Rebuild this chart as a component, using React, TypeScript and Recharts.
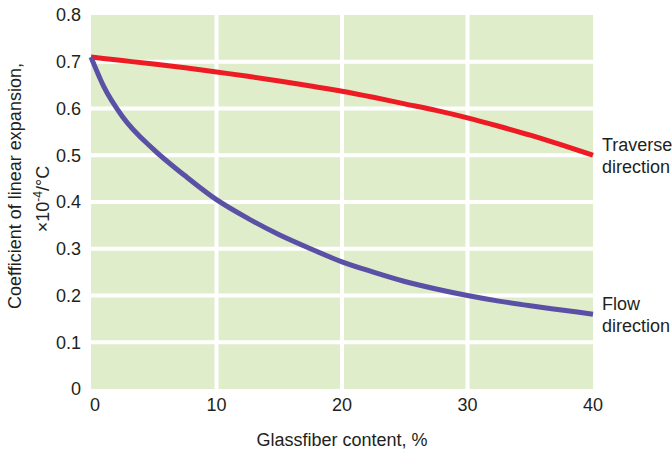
import { CartesianGrid, Line, LineChart, XAxis, YAxis } from 'recharts';

const FONT = '"Liberation Sans", Arial, sans-serif';
const INK = '#231f20';

const glassfiber = [0, 1, 2.5, 5, 7.5, 10, 12.5, 15, 17.5, 20, 22.5, 25, 27.5, 30, 32.5, 35, 37.5, 40];
const traverse = [0.71, 0.707, 0.7025, 0.695, 0.687, 0.678, 0.669, 0.659, 0.648, 0.637, 0.624, 0.61, 0.596, 0.58, 0.562, 0.543, 0.522, 0.5];
const flow = [0.71, 0.648, 0.583, 0.512, 0.456, 0.405, 0.365, 0.33, 0.3, 0.272, 0.25, 0.23, 0.214, 0.2, 0.188, 0.178, 0.169, 0.16];

const xTicks = [0, 10, 20, 30, 40];
const yTicks = [0, 0.1, 0.2, 0.3, 0.4, 0.5, 0.6, 0.7, 0.8];
const hGrid = [0.1, 0.2, 0.3, 0.4, 0.5, 0.6, 0.7];
const vGrid = [10, 20, 30];

const traverseLabel = ['Traverse', 'direction'];
const flowLabel = ['Flow', 'direction'];

const data = glassfiber.map((g, i) => ({ g, traverse: traverse[i], flow: flow[i] }));

function endLabel(lines: string[]) {
  return (props: any) => {
    const { x, y, index } = props;
    if (index !== data.length - 1) return null;
    return (
      <text x={x + 9} y={y - 4} fontFamily={FONT} fontSize={18} fill={INK}>
        <tspan x={x + 9} dy={0}>{lines[0]}</tspan>
        <tspan x={x + 9} dy={22}>{lines[1]}</tspan>
      </text>
    );
  };
}

// x tick "0" sits a little right of the axis in the original
function XTick(props: any) {
  const { x, y, payload } = props;
  const shift = payload.value === 0 ? 4 : 0;
  return (
    <text x={x + shift} y={y + 14} textAnchor="middle" fontFamily={FONT} fontSize={18} fill={INK}>
      {payload.value}
    </text>
  );
}

function YLabel() {
  return (
    <g>
      <text x={21} y={186} transform="rotate(-90, 21, 186)" textAnchor="middle" fontFamily={FONT} fontSize={18} fill={INK}>
        Coefficient of linear expansion,
      </text>
      <text x={49} y={199} transform="rotate(-90, 49, 199)" textAnchor="middle" fontFamily={FONT} fontSize={18} fill={INK}>
        ×10<tspan dy={-7} fontSize={12}>-4</tspan><tspan dy={7}>/°C</tspan>
      </text>
    </g>
  );
}

export default function App() {
  return (
    <div style={{ position: 'absolute', left: 0, top: 0, background: '#fff' }}>
      <LineChart width={672} height={454} data={data} margin={{ top: 15, right: 79, bottom: 0, left: 0 }}>
        <CartesianGrid
          fill="#e0edcb"
          stroke="#ffffff"
          strokeWidth={4}
          horizontalValues={hGrid}
          verticalValues={vGrid}
        />
        <XAxis
          dataKey="g"
          type="number"
          domain={[0, 40]}
          ticks={xTicks}
          height={65}
          axisLine={false}
          tickLine={false}
          tick={<XTick />}
          label={{ value: 'Glassfiber content, %', position: 'insideBottom', offset: 8, fontFamily: FONT, fontSize: 18, fill: INK }}
        />
        <YAxis
          type="number"
          domain={[0, 0.8]}
          ticks={yTicks}
          width={91}
          axisLine={false}
          tickLine={false}
          tick={{ fontFamily: FONT, fontSize: 18, fill: INK }}
          tickMargin={4}
          tickFormatter={(v: number) => (v === 0 ? '0' : v.toFixed(1))}
          label={<YLabel />}
        />
        <Line
          type="monotone"
          dataKey="traverse"
          stroke="#ed1c24"
          strokeWidth={5}
          dot={false}
          isAnimationActive={false}
          label={endLabel(traverseLabel)}
        />
        <Line
          type="monotone"
          dataKey="flow"
          stroke="#5a50a5"
          strokeWidth={5}
          dot={false}
          isAnimationActive={false}
          label={endLabel(flowLabel)}
        />
      </LineChart>
    </div>
  );
}
